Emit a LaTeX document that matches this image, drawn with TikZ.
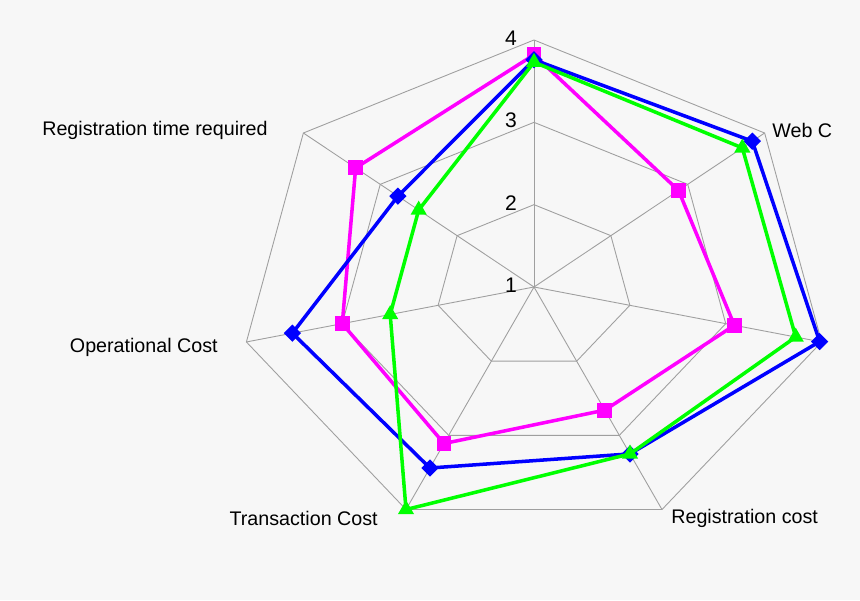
\documentclass[tikz,border=0pt]{standalone}
\usepackage{fontspec}
\setmainfont{Liberation Sans}
\usetikzlibrary{shapes.geometric}
\definecolor{chartpink}{RGB}{255,0,255}
\definecolor{chartblue}{RGB}{0,0,255}
\definecolor{chartgreen}{RGB}{0,255,0}

\tikzset{
  grid/.style={draw=gray!75, line width=0.5pt},
  axlabel/.style={font=\fontsize{11.2}{13}\selectfont, inner sep=0pt},
  blueline/.style={draw=chartblue, line width=2pt, line join=round},
  pinkline/.style={draw=chartpink, line width=2pt, line join=round},
  greenline/.style={draw=chartgreen, line width=2pt, line join=round},
  bluemark/.style={diamond, fill=chartblue, inner sep=0pt, minimum size=10pt},
  pinkmark/.style={rectangle, fill=chartpink, inner sep=0pt, minimum size=8.5pt},
  greenmark/.style={isosceles triangle, shape border rotate=90, isosceles triangle apex angle=60,
    fill=chartgreen, inner sep=0pt, minimum size=8pt}
}

\begin{document}
\begin{tikzpicture}
  \fill[gray!6] (0,0) rectangle (17.2,12);
  \useasboundingbox (0,0) rectangle (17.2,12);
  \begin{scope}[shift={(10.68,6.26)}, x=1.9667cm, y=1.6467cm]
    % grid
    \coordinate (c) at (0,0);
    \foreach \k in {0,...,6} {
      \pgfmathsetmacro\a{90-360/7*\k}
      \coordinate (ax\k) at ({3*cos(\a)},{3*sin(\a)});
      \draw[grid] (c) -- (ax\k);
    }
    \foreach \lv in {1,2,3} {
      \draw[grid] \foreach \k in {0,...,6} {
        \ifnum\k=0 ({\lv*cos(90)},{\lv*sin(90)}) \else
        -- ({\lv*cos(90-360/7*\k)},{\lv*sin(90-360/7*\k)}) \fi} -- cycle;
    }
    % scale
    \foreach \lv in {1,2,3,4}
      \node[axlabel, font=\fontsize{12}{14}\selectfont, anchor=east] (lv\lv) at (-0.17,{\lv-1+0.02}) {\lv};
    % series
    \foreach \vals/\st/\mk in {
        {3.82,2.88,3.09,2.66,3.11,3.0,3.32}/pinkline/pinkmark,
        {3.76,3.84,3.98,3.25,3.44,3.52,2.77}/blueline/bluemark,
        {3.73,3.71,3.73,3.25,4.0,2.5,2.5}/greenline/greenmark} {
      \foreach \v [count=\i from 0] in \vals
        \coordinate (p\i) at ({(\v-1)*cos(90-360/7*\i)},{(\v-1)*sin(90-360/7*\i)});
      \draw[\st] (p0) -- (p1) -- (p2) -- (p3) -- (p4) -- (p5) -- (p6) -- cycle;
      \foreach \i in {0,...,6}
        \node[\mk] (m\i) at (p\i) {};
    }
  \end{scope}
  % axis labels
  \node[axlabel, anchor=east] (regtime) at (5.36,9.4) {Registration time required};
  \node[axlabel, anchor=west] (web) at (15.44,9.4) {Web C};
  \node[axlabel, anchor=east] (opcost) at (4.36,5.06) {Operational Cost};
  \node[axlabel, anchor=east] (trcost) at (7.56,1.64) {Transaction Cost};
  \node[axlabel, anchor=west] (regcost) at (13.42,1.64) {Registration cost};
\end{tikzpicture}
\end{document}
